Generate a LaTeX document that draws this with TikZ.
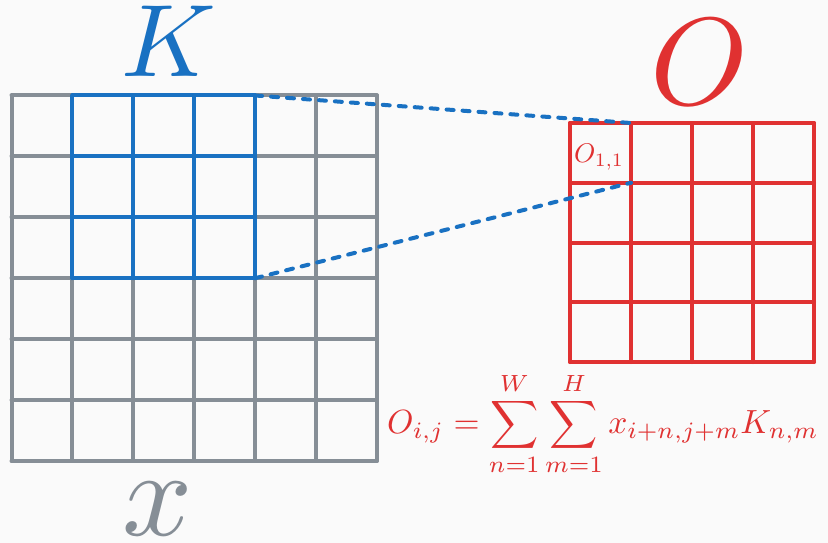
\documentclass[tikz,border=0pt]{standalone}
\usepackage{graphicx}
\definecolor{ocblue}{HTML}{1971C2}
\definecolor{ocred}{HTML}{E03131}
\definecolor{ocgray}{HTML}{868E96}
\definecolor{ocbg}{HTML}{FAFAFA}
\tikzset{
    gridline/.style={line width=4pt, line cap=round},
    dashline/.style={ocblue, line width=4pt, dash pattern=on 7pt off 9pt, line cap=round},
    biglabel/.style={anchor=base, inner sep=0pt}
}
\begin{document}
\begin{tikzpicture}[x=1pt,y=-1pt]
    \fill[ocbg] (0,0) rectangle (828,543);
    \useasboundingbox (0,0) rectangle (828,543);

    % input x
    \foreach \i in {0,...,6} {
        \draw[gridline,ocgray] ({11.5+60.9*\i},95.5) -- ({11.5+60.9*\i},460.9);
        \draw[gridline,ocgray] (11.5,{95.5+60.9*\i}) -- (376.9,{95.5+60.9*\i});
    }
    % kernel K
    \foreach \i in {0,...,3} {
        \draw[gridline,ocblue] ({72.4+60.9*\i},95.5) -- ({72.4+60.9*\i},278.2);
        \draw[gridline,ocblue] (72.4,{95.5+60.9*\i}) -- (255.1,{95.5+60.9*\i});
    }
    % output O
    \foreach \i in {0,...,4} {
        \draw[gridline,ocred] ({570+61*\i},123) -- ({570+61*\i},362);
        \draw[gridline,ocred] (570,{123+59.75*\i}) -- (814,{123+59.75*\i});
    }

    \coordinate (kne) at (255.1,95.5);
    \coordinate (kse) at (255.1,278.2);
    \coordinate (one) at (631,123);
    \coordinate (ose) at (631,182.75);
    \draw[dashline] (kne) -- (one);
    \draw[dashline] (kse) -- (ose);

    \node[biglabel, text=ocblue] (klabel) at (169,77) {\scalebox{10.3}{$K$}};
    \node[biglabel, text=ocred] (olabel) at (700,105) {\scalebox{12.4}{$O$}};
    \node[biglabel, text=ocgray] (xlabel) at (158,535) {\scalebox{12.3}{$x$}};
    \node[anchor=base west, inner sep=0pt, text=ocred] (o11) at (574,162) {\scalebox{2.7}{$O_{1,1}$}};
    \node[anchor=base west, inner sep=0pt, text=ocred] (formula) at (387,433)
        {\scalebox{3.35}{$\displaystyle O_{i,j} = \sum_{n=1}^{W}\sum_{m=1}^{H} x_{i+n,j+m}K_{n,m}$}};
\end{tikzpicture}
\end{document}
